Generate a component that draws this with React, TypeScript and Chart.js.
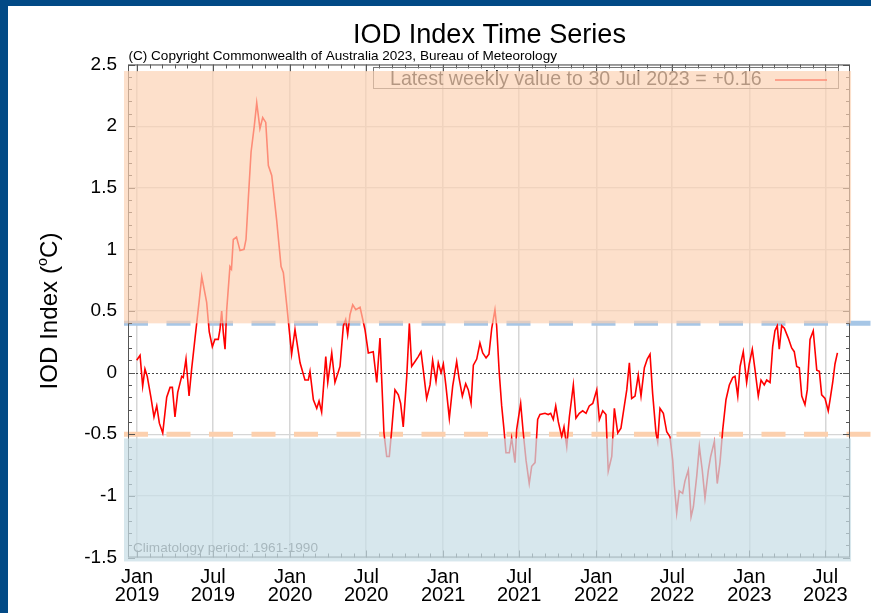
import React, { useEffect, useRef } from "react";
import { Chart, registerables } from "chart.js";
Chart.register(...registerables);

// ---- data (decimal years of weekly observations, IOD index in °C) ----
const weekYears = [
  2018.998, 2019.020, 2019.037, 2019.052, 2019.067, 2019.091, 2019.111, 2019.129, 2019.146, 2019.168,
  2019.194, 2019.216, 2019.231, 2019.248, 2019.266, 2019.292, 2019.302, 2019.320, 2019.340, 2019.357,
  2019.379, 2019.407, 2019.423,
  2019.455, 2019.472, 2019.492, 2019.509, 2019.531, 2019.542, 2019.553, 2019.564, 2019.575, 2019.586,
  2019.607, 2019.617, 2019.629, 2019.650, 2019.673, 2019.699, 2019.712, 2019.727, 2019.745, 2019.766,
  2019.782, 2019.803, 2019.821, 2019.841, 2019.858, 2019.880, 2019.912, 2019.941, 2019.956, 2019.978,
  2020.010, 2020.032, 2020.065, 2020.097, 2020.119, 2020.130, 2020.152, 2020.174, 2020.189, 2020.206,
  2020.233, 2020.246, 2020.272, 2020.293, 2020.326, 2020.348, 2020.363, 2020.376, 2020.391, 2020.409,
  2020.429, 2020.457, 2020.489, 2020.511, 2020.543, 2020.566, 2020.587, 2020.613, 2020.631, 2020.648,
  2020.664, 2020.685, 2020.707, 2020.722, 2020.739, 2020.762, 2020.779, 2020.794, 2020.816, 2020.837,
  2020.855, 2020.870, 2020.892, 2020.914, 2020.931, 2020.953, 2020.968, 2020.986,
  2021.001, 2021.018, 2021.040, 2021.062, 2021.088, 2021.103, 2021.125, 2021.147, 2021.164, 2021.182,
  2021.197, 2021.219, 2021.240, 2021.258, 2021.280, 2021.299, 2021.317, 2021.338, 2021.349, 2021.366,
  2021.382, 2021.397, 2021.410, 2021.432, 2021.447, 2021.469, 2021.480, 2021.506, 2021.523, 2021.541,
  2021.562, 2021.578, 2021.600, 2021.617, 2021.632, 2021.665, 2021.686, 2021.702, 2021.719, 2021.735,
  2021.752, 2021.774, 2021.789, 2021.807, 2021.824, 2021.850, 2021.867, 2021.889, 2021.911, 2021.933,
  2021.954, 2021.977,
  2022.003, 2022.020, 2022.042, 2022.063, 2022.078, 2022.101, 2022.118, 2022.140, 2022.161, 2022.183,
  2022.199, 2022.216, 2022.231, 2022.253, 2022.274, 2022.292, 2022.314, 2022.333, 2022.351, 2022.368,
  2022.390, 2022.401, 2022.416, 2022.438, 2022.460, 2022.481, 2022.499, 2022.510, 2022.525, 2022.542,
  2022.564, 2022.579, 2022.601, 2022.619, 2022.634, 2022.656, 2022.673, 2022.692, 2022.710, 2022.732,
  2022.747, 2022.771, 2022.790, 2022.808, 2022.826, 2022.847, 2022.869, 2022.891, 2022.906, 2022.924,
  2022.939, 2022.960, 2022.982, 2022.999,
  2023.019, 2023.037, 2023.058, 2023.076, 2023.097, 2023.113, 2023.135, 2023.152, 2023.167, 2023.182,
  2023.195, 2023.211, 2023.228, 2023.254, 2023.276, 2023.293, 2023.309, 2023.326, 2023.342, 2023.363,
  2023.378, 2023.396, 2023.417, 2023.440, 2023.457, 2023.472, 2023.494, 2023.515, 2023.527, 2023.544,
  2023.559, 2023.575,
];

const iodValues = [
  0.10, 0.14, -0.11, 0.03, -0.03, -0.20, -0.36, -0.27, -0.41, -0.49,
  -0.20, -0.12, -0.12, -0.36, -0.16, -0.03, -0.04, 0.11, -0.19, 0.03,
  0.28, 0.59, 0.78,
  0.57, 0.33, 0.21, 0.27, 0.27, 0.35, 0.50, 0.32, 0.19, 0.51,
  0.86, 0.84, 1.08, 1.10, 0.99, 1.00, 1.08, 1.41, 1.79, 2.00,
  2.19, 1.98, 2.07, 2.03, 1.68, 1.60, 1.24, 0.86, 0.81, 0.55,
  0.15, 0.35, 0.08, -0.06, -0.06, 0.01, -0.22, -0.29, -0.23, -0.32,
  0.13, -0.08, 0.16, -0.08, 0.05, 0.38, 0.43, 0.31, 0.47, 0.55,
  0.51, 0.53, 0.35, 0.16, 0.17, -0.08, 0.28, -0.49, -0.68, -0.68,
  -0.46, -0.14, -0.18, -0.25, -0.44, -0.03, 0.40, 0.05, 0.09, 0.13,
  0.17, 0.02, -0.21, -0.10, 0.10, -0.07, 0.08, 0.00,
  0.07, -0.11, -0.37, -0.11, 0.09, -0.04, -0.19, -0.09, -0.14, -0.25,
  0.06, 0.11, 0.24, 0.16, 0.12, 0.15, 0.36, 0.51, 0.38, 0.00,
  -0.27, -0.46, -0.65, -0.65, -0.53, -0.73, -0.46, -0.25, -0.49, -0.71,
  -0.90, -0.76, -0.73, -0.38, -0.34, -0.33, -0.34, -0.33, -0.38, -0.27,
  -0.40, -0.52, -0.44, -0.60, -0.36, -0.10, -0.37, -0.33, -0.31, -0.33,
  -0.27, -0.25,
  -0.14, -0.38, -0.31, -0.34, -0.80, -0.68, -0.29, -0.49, -0.45, -0.27,
  -0.14, 0.08, -0.21, -0.19, -0.02, -0.19, 0.04, 0.11, 0.15, -0.17,
  -0.49, -0.56, -0.29, -0.33, -0.48, -0.52, -0.71, -0.92, -1.14, -0.96,
  -0.98, -0.88, -0.79, -1.17, -1.09, -0.84, -0.60, -0.79, -1.02, -0.79,
  -0.68, -0.56, -0.90, -0.73, -0.46, -0.22, -0.10, -0.04, -0.03, -0.19,
  0.05, 0.17, -0.08, 0.07,
  0.19, 0.02, -0.19, -0.06, -0.10, -0.06, -0.08, 0.21, 0.34, 0.38,
  0.19, 0.38, 0.36, 0.28, 0.20, 0.17, 0.05, 0.04, -0.19, -0.26,
  -0.14, 0.27, 0.34, 0.02, 0.01, -0.18, -0.21, -0.31, -0.22, -0.08,
  0.07, 0.16,
];

const xTickYears = [2019, 2019.4959, 2020, 2020.4973, 2021, 2021.4959, 2022, 2022.4959, 2023, 2023.4959];
const xTickLabels = [
  ["Jan", "2019"], ["Jul", "2019"], ["Jan", "2020"], ["Jul", "2020"], ["Jan", "2021"],
  ["Jul", "2021"], ["Jan", "2022"], ["Jul", "2022"], ["Jan", "2023"], ["Jul", "2023"],
];
const yTickValues = [-1.5, -1, -0.5, 0, 0.5, 1, 1.5, 2, 2.5];

const X_MIN = 2018.9412;
const X_MAX = 2023.6571;
const Y_MIN = -1.5;
const Y_MAX = 2.5;

const POSITIVE_THRESHOLD = 0.4;
const NEGATIVE_THRESHOLD = -0.5;
const POSITIVE_BAND = [0.4, 2.447];
const NEGATIVE_BAND = [-0.534, -1.532];
const BAND_X = [2018.915, 2023.664];

const TITLE = "IOD Index Time Series";
const COPYRIGHT = "(C) Copyright Commonwealth of Australia 2023, Bureau of Meteorology";
const LATEST = "Latest weekly value to 30 Jul 2023 = +0.16";
const CLIMATOLOGY = "Climatology period: 1961-1990";

const SANS = "'Liberation Sans', Arial, Helvetica, sans-serif";
const NARROW = "'Liberation Sans Narrow', 'Arial Narrow', 'Liberation Sans', sans-serif";

function fitSize(ctx: CanvasRenderingContext2D, text: string, family: string, base: number, target: number) {
  ctx.font = `${base}px ${family}`;
  const w = ctx.measureText(text).width;
  return w > 0 ? (base * target) / w : base;
}

const CUM_DAYS = [0, 31, 59, 90, 120, 151, 181, 212, 243, 273, 304, 334];

const decor = {
  id: "decor",
  beforeDatasetsDraw(chart: any) {
    const { ctx, chartArea, scales } = chart;
    const { left, right, top, bottom } = chartArea;
    const x = scales.x, y = scales.y;
    ctx.save();
    // zero line (dotted)
    const y0 = Math.round(y.getPixelForValue(0)) + 0.5;
    ctx.strokeStyle = "#444";
    ctx.lineWidth = 1;
    ctx.setLineDash([2, 2]);
    ctx.beginPath();
    ctx.moveTo(left, y0);
    ctx.lineTo(right, y0);
    ctx.stroke();
    // threshold dashes
    const xs = x.getPixelForValue(BAND_X[0]);
    ctx.lineWidth = 5;
    ctx.setLineDash([24, 18.5]);
    ctx.strokeStyle = "#a6c6e6";
    let py = y.getPixelForValue(POSITIVE_THRESHOLD);
    ctx.beginPath();
    ctx.moveTo(xs, py);
    ctx.lineTo(chart.width, py);
    ctx.stroke();
    ctx.strokeStyle = "#fcd0ae";
    py = y.getPixelForValue(NEGATIVE_THRESHOLD);
    ctx.beginPath();
    ctx.moveTo(xs, py);
    ctx.lineTo(chart.width, py);
    ctx.stroke();
    ctx.setLineDash([]);
    // frame
    ctx.strokeStyle = "#555";
    ctx.lineWidth = 1;
    ctx.strokeRect(left + 0.5, top + 0.5, right - left - 1, bottom - top - 1);
    // y minor ticks
    ctx.beginPath();
    for (let k = Math.round(Y_MIN * 10); k <= Math.round(Y_MAX * 10); k++) {
      const p = Math.round(y.getPixelForValue(k / 10)) + 0.5;
      const len = k % 5 === 0 ? 7 : 4;
      ctx.moveTo(left, p);
      ctx.lineTo(left + len, p);
      ctx.moveTo(right, p);
      ctx.lineTo(right - len, p);
    }
    // x month ticks
    for (let yr = 2018; yr <= 2023; yr++) {
      const leap = yr % 4 === 0;
      for (let m = 0; m < 12; m++) {
        const v = yr + (CUM_DAYS[m] + (leap && m > 1 ? 1 : 0)) / (leap ? 366 : 365);
        if (v < X_MIN || v > X_MAX) continue;
        const p = Math.round(x.getPixelForValue(v)) + 0.5;
        const len = m === 0 || m === 6 ? 7 : 4;
        ctx.moveTo(p, top);
        ctx.lineTo(p, top + len);
        ctx.moveTo(p, bottom);
        ctx.lineTo(p, bottom - len);
      }
    }
    ctx.stroke();
    // legend box
    ctx.strokeStyle = "#777";
    ctx.strokeRect(373.5, 67.5, 465, 21);
    const ls = fitSize(ctx, LATEST, SANS, 17, 372);
    ctx.font = `${ls}px ${SANS}`;
    ctx.fillStyle = "#222";
    ctx.textAlign = "left";
    ctx.textBaseline = "alphabetic";
    ctx.fillText(LATEST, 390, 84.5);
    ctx.strokeStyle = "#ff0000";
    ctx.lineWidth = 1.5;
    ctx.beginPath();
    ctx.moveTo(775, 80);
    ctx.lineTo(827, 80);
    ctx.stroke();
    // climatology note
    const cs = fitSize(ctx, CLIMATOLOGY, SANS, 12, 185);
    ctx.font = `${cs}px ${SANS}`;
    ctx.fillStyle = "#555";
    ctx.fillText(CLIMATOLOGY, 133, 552);
    ctx.restore();
  },
  afterDatasetsDraw(chart: any) {
    const { ctx, scales } = chart;
    const x = scales.x, y = scales.y;
    const x1 = x.getPixelForValue(BAND_X[0]);
    const x2 = x.getPixelForValue(BAND_X[1]);
    ctx.save();
    let t = y.getPixelForValue(POSITIVE_BAND[1]);
    let b = y.getPixelForValue(POSITIVE_BAND[0]);
    ctx.fillStyle = "rgba(252,209,178,0.67)";
    ctx.fillRect(x1, t, x2 - x1, b - t);
    t = y.getPixelForValue(NEGATIVE_BAND[0]);
    b = y.getPixelForValue(NEGATIVE_BAND[1]);
    ctx.fillStyle = "rgba(200,222,230,0.72)";
    ctx.fillRect(x1, t, x2 - x1, b - t);
    ctx.restore();
  },
  afterDraw(chart: any) {
    const { ctx } = chart;
    ctx.save();
    ctx.fillStyle = "#000";
    ctx.textBaseline = "alphabetic";
    // title
    const ts = fitSize(ctx, TITLE, SANS, 27, 273);
    ctx.font = `${ts}px ${SANS}`;
    ctx.textAlign = "center";
    ctx.fillText(TITLE, 489.5, 43);
    // copyright
    const cs = fitSize(ctx, COPYRIGHT, SANS, 13, 429);
    ctx.font = `${cs}px ${SANS}`;
    ctx.textAlign = "left";
    ctx.fillText(COPYRIGHT, 128.5, 60);
    // y axis title with superscript o
    const p1 = "IOD Index (", sup = "o", p2 = "C)";
    const measure = (s: number) => {
      ctx.font = `${s}px ${SANS}`;
      const a = ctx.measureText(p1).width, c = ctx.measureText(p2).width;
      ctx.font = `${s * 0.6}px ${SANS}`;
      const bw = ctx.measureText(sup).width;
      return [a, bw, c];
    };
    let s = 22;
    let [w1, ws, w2] = measure(s);
    s = (s * 157) / (w1 + ws + w2);
    [w1, ws, w2] = measure(s);
    const total = w1 + ws + w2;
    ctx.translate(48, 311);
    ctx.rotate(-Math.PI / 2);
    const x0 = -total / 2;
    const base = s * 0.36;
    ctx.font = `${s}px ${SANS}`;
    ctx.fillText(p1, x0, base);
    ctx.fillText(p2, x0 + w1 + ws, base);
    ctx.font = `${s * 0.6}px ${SANS}`;
    ctx.fillText(sup, x0 + w1, base - s * 0.42);
    ctx.restore();
  },
};

export default function App() {
  const canvasRef = useRef<HTMLCanvasElement | null>(null);

  useEffect(() => {
    const canvas = canvasRef.current;
    if (!canvas) return;
    const points = weekYears.map((t, i) => ({ x: t, y: iodValues[i] }));
    const chart = new Chart(canvas, {
      type: "line",
      data: {
        datasets: [
          {
            data: points,
            borderColor: "#ff0000",
            borderWidth: 1.6,
            pointRadius: 0,
            tension: 0,
            fill: false,
          },
        ],
      },
      options: {
        responsive: false,
        animation: false,
        devicePixelRatio: 1,
        layout: { padding: { left: 0, top: 64.5, right: 21, bottom: 0 } },
        plugins: {
          legend: { display: false },
          tooltip: { enabled: false },
          title: { display: false },
        },
        scales: {
          x: {
            type: "linear",
            min: X_MIN,
            max: X_MAX,
            afterFit: (s: any) => {
              s.height = 55.5;
            },
            afterBuildTicks: (s: any) => {
              s.ticks = xTickYears.map((v) => ({ value: v }));
            },
            ticks: {
              autoSkip: false,
              maxRotation: 0,
              padding: 11,
              color: "#000",
              font: { family: NARROW, size: 20, lineHeight: 0.9 },
              callback: (_v: any, i: number) => xTickLabels[i],
            },
            grid: { color: "#d6d6d6", lineWidth: 1.5, drawTicks: false },
            border: { display: false },
          },
          y: {
            type: "linear",
            min: Y_MIN,
            max: Y_MAX,
            afterFit: (s: any) => {
              s.width = 128;
            },
            afterBuildTicks: (s: any) => {
              s.ticks = yTickValues.map((v) => ({ value: v }));
            },
            ticks: {
              padding: 11,
              color: "#000",
              font: { family: SANS, size: 19 },
              callback: (v: any) => String(v),
            },
            grid: {
              color: (c: any) => (c.tick && c.tick.value === 0 ? "rgba(0,0,0,0)" : "#d6d6d6"),
              lineWidth: 1.2,
              drawTicks: false,
            },
            border: { display: false },
          },
        },
      } as any,
      plugins: [decor],
    });
    return () => chart.destroy();
  }, []);

  return (
    <div style={{ position: "relative", width: 871, height: 613, background: "#024a86", overflow: "hidden" }}>
      <style>{`body{margin:0;}`}</style>
      <div style={{ position: "absolute", left: 8, top: 6, right: 0, bottom: 0, background: "#ffffff" }} />
      <canvas
        ref={canvasRef}
        width={871}
        height={613}
        style={{ position: "absolute", left: 0, top: 0, width: 871, height: 613 }}
      />
    </div>
  );
}
